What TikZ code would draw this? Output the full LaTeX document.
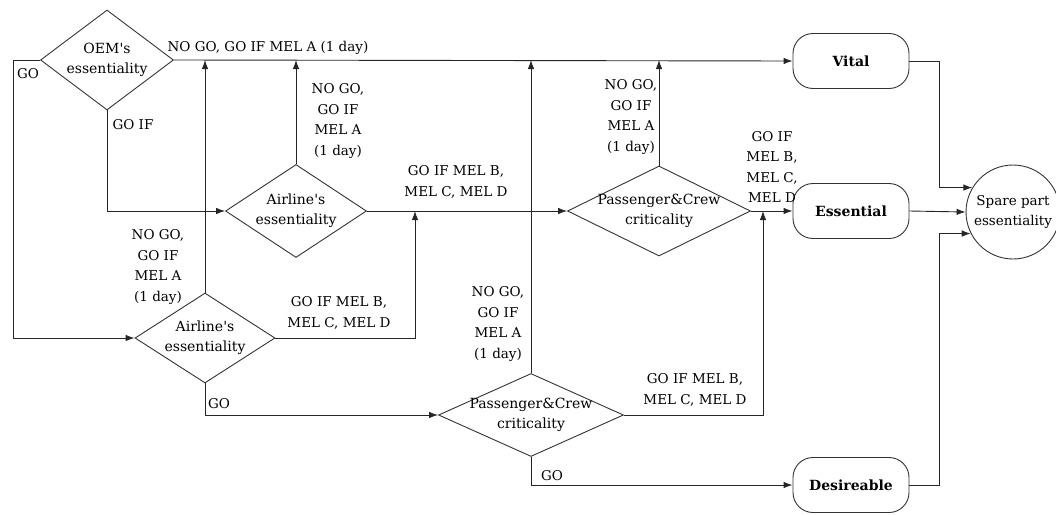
\documentclass[tikz,border=0pt]{standalone}
\usepackage{fontspec}
\setmainfont{DejaVu Serif}
\usetikzlibrary{positioning, arrows.meta, shapes.geometric}

\begin{document}
\begin{tikzpicture}[x=1pt, y=-1pt,
    decision/.style={draw=black!80, line width=0.9pt, diamond, inner sep=0pt},
    dtext/.style={align=center, inner sep=0pt, font=\fontsize{14}{20}\selectfont},
    outcome/.style={draw=black!80, line width=0.9pt, rounded corners=20pt, align=center,
                    minimum width=116pt, minimum height=55pt,
                    font=\fontsize{14}{20}\selectfont\bfseries},
    result/.style={draw=black!80, line width=0.9pt, circle, align=center, minimum size=94pt,
                   inner sep=0pt, font=\fontsize{13.5}{20}\selectfont},
    cond/.style={align=center, inner sep=0pt, font=\fontsize{13.5}{20.5}\selectfont},
    link/.style={-{Latex[length=9pt, width=6.5pt]}, line width=0.9pt, draw=black!85}]
    \useasboundingbox (0,0) rectangle (1056,514);

    \node[decision, minimum width=133pt, minimum height=100pt,
          label={[dtext]center:OEM\textquotesingle s\\essentiality}] (oem) at (107,60) {};
    \node[decision, minimum width=141pt, minimum height=93pt,
          label={[dtext]center:Airline\textquotesingle s\\essentiality}] (air1) at (296,211) {};
    \node[decision, minimum width=140pt, minimum height=90pt,
          label={[dtext]center:Airline\textquotesingle s\\essentiality}] (air2) at (205,338) {};
    \node[decision, minimum width=183pt, minimum height=90pt,
          label={[dtext]center:Passenger\&Crew\\criticality}] (pax1) at (659,211) {};
    \node[decision, minimum width=185pt, minimum height=83pt,
          label={[dtext]center:Passenger\&Crew\\criticality}] (pax2) at (531,415) {};

    \node[outcome] (vital)   at (851,61)  {Vital};
    \node[outcome] (essent)  at (851,211) {Essential};
    \node[outcome] (desire)  at (851,485) {Desireable};

    \node[result] (spare) at (1013,212) {Spare part\\essentiality};

    \coordinate (goleft) at (13,60);
    \coordinate (mergea) at (415,211);
    \coordinate (mergeb) at (763,211);
    \coordinate (bus)    at (939,211);

    \draw[link] (oem.east) -- (vital.west);
    \draw[link] (oem.west) -- (goleft) |- (air2.west);
    \draw[link] (oem.south) |- (air1.west);
    \draw[link] (air1.north) -- (air1.north |- oem.east);
    \draw[link] (air2.north) -- (air2.north |- oem.east);
    \draw[link] (pax1.north) -- (pax1.north |- oem.east);
    \draw[link] (pax2.north) -- (pax2.north |- oem.east);
    \draw[link] (air1.east) -- (pax1.west);
    \draw[link] (air2.east) -| (mergea);
    \draw[link] (air2.south) |- (pax2.west);
    \draw[link] (pax2.east) -| (mergeb);
    \draw[link] (pax2.south) |- (desire.west);
    \draw[link] (pax1.east) -- (essent.west);
    \draw[link] (vital.east) -| (bus |- spare.149) -- (spare.149);
    \draw[link] (essent.east) -- (spare.west);
    \draw[link] (desire.east) -| (bus |- spare.207) -- (spare.207);

    \node[cond] (lgo)    at (28,74)   {GO};
    \node[cond] (ltop)   at (268,48)  {NO GO, GO IF MEL A (1 day)};
    \node[cond] (lgoif)  at (133,125) {GO IF};
    \node[cond] (la1up)  at (338,121) {NO GO,\\GO IF\\MEL A\\(1 day)};
    \node[cond] (la1rt)  at (456,182) {GO IF MEL B,\\MEL C, MEL D};
    \node[cond] (la2up)  at (158,267) {NO GO,\\GO IF\\MEL A\\(1 day)};
    \node[cond] (la2rt)  at (339,313) {GO IF MEL B,\\MEL C, MEL D};
    \node[cond] (la2go)  at (219,404) {GO};
    \node[cond] (lp1up)  at (631,117) {NO GO,\\GO IF\\MEL A\\(1 day)};
    \node[cond] (lp1rt)  at (772,167) {GO IF\\MEL B,\\MEL C,\\MEL D};
    \node[cond] (lp2up)  at (498,324) {NO GO,\\GO IF\\MEL A\\(1 day)};
    \node[cond] (lp2rt)  at (695,390) {GO IF MEL B,\\MEL C, MEL D};
    \node[cond] (lp2go)  at (552,476) {GO};
\end{tikzpicture}
\end{document}
